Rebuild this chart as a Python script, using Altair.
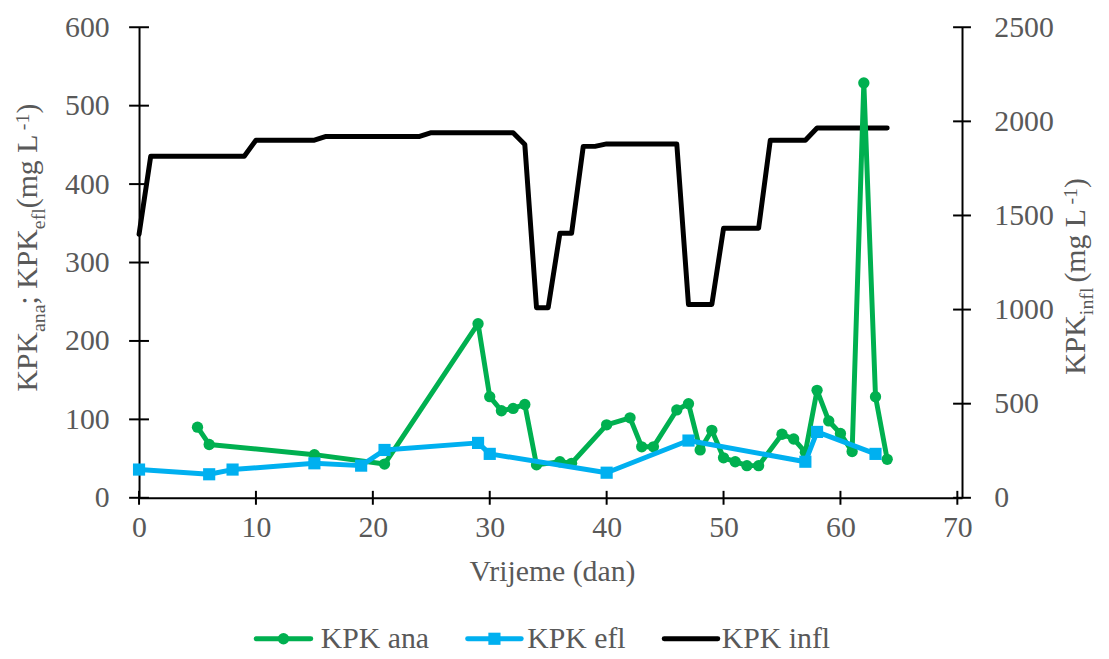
import altair as alt
import pandas as pd

# ---------------- data ----------------
infl_days = [0, 1, 9, 10, 15, 16, 24, 25, 32, 33, 34, 35, 36, 37, 38, 39, 40, 46, 47, 49, 50, 53, 54, 57, 58, 64]
infl_vals = [1400, 1815, 1815, 1900, 1900, 1920, 1920, 1940, 1940, 1877, 1010, 1010, 1405, 1405, 1867, 1867,
             1880, 1880, 1027, 1027, 1432, 1432, 1900, 1900, 1965, 1965]

ana_days = [5, 6, 15, 21, 29, 30, 31, 32, 33, 34, 36, 37, 40, 42, 43, 44, 46, 47, 48, 49, 50, 51, 52, 53,
            55, 56, 57, 58, 59, 60, 61, 62, 63, 64]
ana_vals = [90, 68, 55, 43, 222, 129, 111, 114, 119, 42, 46, 44, 93, 102, 65, 65, 112, 120, 61, 86, 51, 46,
            41, 41, 81, 75, 58, 137, 98, 82, 59, 529, 129, 49]

efl_days = [0, 6, 8, 15, 19, 21, 29, 30, 40, 47, 57, 58, 63]
efl_vals = [36, 30, 36, 44, 41, 61, 70, 56, 32, 73, 46, 84, 56]

x_ticks = [0, 10, 20, 30, 40, 50, 60, 70]
left_ticks = [0, 100, 200, 300, 400, 500, 600]
right_ticks = [0, 500, 1000, 1500, 2000, 2500]

series_names = ["KPK ana", "KPK efl", "KPK infl"]

# ---------------- style ----------------
W, H = 829, 474
FONT = "Liberation Serif"
GRAY = "#595959"
GREEN = "#00B050"
BLUE = "#00B0F0"
BLACK = "#000000"
FS = 30      # main font size
FS_SUB = 20  # sub/superscript size

CW = {"K": 722, "P": 556, "a": 444, "n": 500, ";": 278, " ": 250, "e": 444, "f": 333, "l": 278,
      "(": 333, "m": 778, "g": 500, "L": 611, "-": 333, "1": 500, ")": 333, "i": 278}


def tw(s, size):
    return sum(CW.get(c, 500) for c in s) / 1000.0 * size


one = pd.DataFrame({"k": [0]})

infl_df = pd.DataFrame({"day": infl_days, "val": infl_vals})
ana_df = pd.DataFrame({"day": ana_days, "val": ana_vals})
efl_df = pd.DataFrame({"day": efl_days, "val": efl_vals})
xt_df = pd.DataFrame({"v": x_ticks})
lt_df = pd.DataFrame({"v": left_ticks})
rt_df = pd.DataFrame({"v": right_ticks})

xscale = alt.Scale(domain=[0, 70.4], nice=False, zero=False)
lscale = alt.Scale(domain=[0, 600], nice=False)
rscale = alt.Scale(domain=[0, 2500], nice=False)

common_axis = dict(ticks=False, tickSize=0, grid=False, domainColor=BLACK, domainWidth=2,
                   labelFont=FONT, labelFontSize=FS, labelColor=GRAY, title=None,
                   labelFlush=False, labelOverlap=False, format="d")
xaxis = alt.Axis(orient="bottom", values=x_ticks, labelPadding=15, **common_axis)
laxis = alt.Axis(orient="left", values=left_ticks, labelPadding=30, **common_axis)
raxis = alt.Axis(orient="right", values=right_ticks, labelPadding=32, **common_axis)

X = alt.X("day:Q", scale=xscale, axis=xaxis)

line_kw = dict(strokeWidth=5, strokeJoin="round", strokeCap="round")

# ---------------- right-axis group (influent) ----------------
infl_line = alt.Chart(infl_df).mark_line(color=BLACK, **line_kw).encode(
    x=X, y=alt.Y("val:Q", scale=rscale, axis=raxis))
rticks = alt.Chart(rt_df).mark_rule(color=BLACK, strokeWidth=2).encode(
    y=alt.Y("v:Q", scale=rscale, axis=raxis), x=alt.value(W - 9), x2=alt.value(W + 9))
right_group = alt.layer(infl_line, rticks)

# ---------------- left-axis group ----------------
LY = alt.Y("val:Q", scale=lscale, axis=laxis)
ana_line = alt.Chart(ana_df).mark_line(color=GREEN, **line_kw).encode(x=X, y=LY)
ana_pts = alt.Chart(ana_df).mark_point(shape="circle", filled=True, size=130, color=GREEN, opacity=1).encode(x=X, y=LY)
efl_line = alt.Chart(efl_df).mark_line(color=BLUE, **line_kw).encode(x=X, y=LY)
efl_pts = alt.Chart(efl_df).mark_point(shape="square", filled=True, size=150, color=BLUE, opacity=1).encode(x=X, y=LY)

lticks = alt.Chart(lt_df).mark_rule(color=BLACK, strokeWidth=2).encode(
    y=alt.Y("v:Q", scale=lscale, axis=laxis), x=alt.value(-10), x2=alt.value(10))
xticks = alt.Chart(xt_df).mark_rule(color=BLACK, strokeWidth=2).encode(
    x=alt.X("v:Q", scale=xscale, axis=xaxis), y=alt.value(H - 7), y2=alt.value(H + 7))

# ---------------- titles (rich text built from pieces) ----------------
def vertical_title(pieces, x_base, y_start):
    layers = []
    y = y_start
    for s, size, dx, pre in pieces:
        y -= pre
        layers.append(
            alt.Chart(one).mark_text(text=s, angle=270, align="left", baseline="alphabetic",
                                     font=FONT, fontSize=size, color=GRAY)
            .encode(x=alt.value(x_base + dx), y=alt.value(y)))
        y -= tw(s, size)
    return layers


left_title = vertical_title([("KPK", FS, 0, 0), ("ana", FS_SUB, 8, 0), ("; KPK", FS, 0, 0), ("efl", FS_SUB, 8, 0),
                             (" (mg L", FS, 0, 0), ("-1", FS_SUB, -8, -3), (")", FS, 0, 0)],
                            x_base=-103, y_start=367)
right_title = vertical_title([("KPK", FS, 0, 0), (" infl", FS_SUB, 8, 0), (" (mg L", FS, 0, 0),
                              ("-1", FS_SUB, -8, -3), (")", FS, 0, 0)],
                             x_base=W + 124, y_start=350)

x_title = alt.Chart(one).mark_text(text="Vrijeme (dan)", align="center", baseline="alphabetic",
                                   font=FONT, fontSize=FS, color=GRAY).encode(
    x=alt.value(W / 2 + 2), y=alt.value(558))

# ---------------- legend ----------------
LEG_Y = 616
legend_layers = []
leg_specs = [
    (series_names[0], GREEN, "circle", 118, 173, 183, 130),
    (series_names[1], BLUE, "square", 331, 385, 391, 150),
    (series_names[2], BLACK, None, 529, 583, 587, 0),
]
for name, col, shape, a, b, tx, sz in leg_specs:
    legend_layers.append(alt.Chart(one).mark_rule(color=col, strokeWidth=5, strokeCap="round").encode(
        x=alt.value(a), x2=alt.value(b), y=alt.value(LEG_Y)))
    if shape:
        legend_layers.append(alt.Chart(one).mark_point(shape=shape, filled=True, size=sz, color=col, opacity=1)
                             .encode(x=alt.value((a + b) / 2), y=alt.value(LEG_Y)))
    legend_layers.append(alt.Chart(one).mark_text(text=name, align="left", baseline="middle", font=FONT,
                                                  fontSize=FS, color=GRAY)
                         .encode(x=alt.value(tx), y=alt.value(LEG_Y)))

left_group = alt.layer(ana_line, ana_pts, efl_line, efl_pts, lticks, xticks, x_title,
                       *left_title, *right_title, *legend_layers)

chart = (
    alt.layer(right_group, left_group)
    .resolve_scale(y="independent")
    .properties(width=W, height=H,
                autosize=alt.AutoSizeParams(type="none"),
                padding={"left": 132, "top": 17, "right": 140, "bottom": 160},
                background="white")
    .configure_view(stroke=None)
)

chart.save("out.html", embed_options={"renderer": "svg", "actions": False})
